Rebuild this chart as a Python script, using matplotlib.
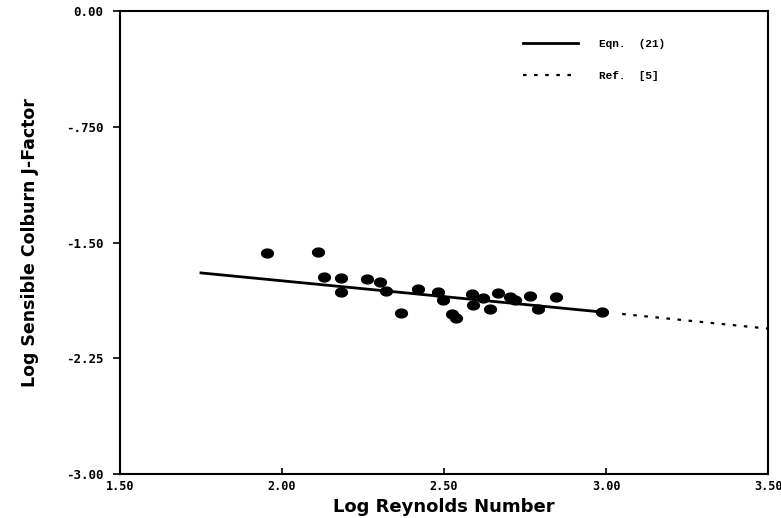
import numpy as np
import matplotlib.pyplot as plt

# measured points (log Re, log j)
log_re = [1.953, 2.112, 2.131, 2.181, 2.182, 2.261, 2.302, 2.321, 2.367, 2.421,
          2.480, 2.498, 2.524, 2.538, 2.585, 2.590, 2.621, 2.642, 2.668, 2.704,
          2.719, 2.765, 2.791, 2.846, 2.988]
log_j = [-1.568, -1.564, -1.722, -1.733, -1.819, -1.739, -1.754, -1.813, -1.955, -1.804,
         -1.819, -1.873, -1.962, -1.990, -1.836, -1.905, -1.858, -1.933, -1.829, -1.852,
         -1.873, -1.844, -1.933, -1.852, -1.953]

# correlation lines
eqn_x = [1.75, 3.00]
eqn_y = [-1.697, -1.953]
ref_x = [3.05, 3.50]
ref_y = [-1.963, -2.058]

xticks = [1.5, 2.0, 2.5, 3.0, 3.5]
xtick_labels = ['1.50', '2.00', '2.50', '3.00', '3.50']
yticks = [0.0, -0.75, -1.5, -2.25, -3.0]
ytick_labels = ['0.00', '-.750', '-1.50', '-2.25', '-3.00']

# slightly flattened dot like the scanned plot symbols
t = np.linspace(0, 2 * np.pi, 40)
ell = np.column_stack([np.cos(t), 0.75 * np.sin(t)])

fig = plt.figure(figsize=(7.81, 5.18), dpi=100)
ax = fig.add_axes([0.1536, 0.0849, 0.8298, 0.8939])

ax.plot(eqn_x, eqn_y, 'k-', lw=2.0, label='Eqn.  (21)')
ax.plot(ref_x, ref_y, color='k', lw=1.6, linestyle=(0, (1.6, 3.4)), label='Ref.  [5]')
ax.plot(log_re, log_j, linestyle='none', marker=ell, color='k', markersize=8.5, zorder=3)

ax.set_xlim(1.5, 3.5)
ax.set_ylim(-3.0, 0.0)
ax.set_xticks(xticks)
ax.set_xticklabels(xtick_labels, family='DejaVu Sans Mono', fontweight='bold', fontsize=8.5)
ax.set_yticks(yticks)
ax.set_yticklabels(ytick_labels, family='DejaVu Sans Mono', fontweight='bold', fontsize=9)
ax.tick_params(axis='x', direction='in', length=4, width=1.2, pad=4)
ax.tick_params(axis='y', direction='out', length=5, width=1.2, pad=7)
for s in ax.spines.values():
    s.set_linewidth(1.5)

ax.set_xlabel('Log Reynolds Number', family='DejaVu Sans', fontweight='bold', fontsize=13, labelpad=4)
ax.set_ylabel('Log Sensible Colburn J-Factor', family='DejaVu Sans', fontweight='bold', fontsize=12.5, labelpad=19)

ax.legend(loc='upper right', frameon=False, prop={'family': 'Liberation Mono', 'weight': 'bold', 'size': 8},
          handlelength=4.9, handletextpad=1.9, labelspacing=2.0, borderaxespad=0, borderpad=0,
          bbox_to_anchor=(0.841, 0.94))

fig.savefig('out.png', dpi=100)
